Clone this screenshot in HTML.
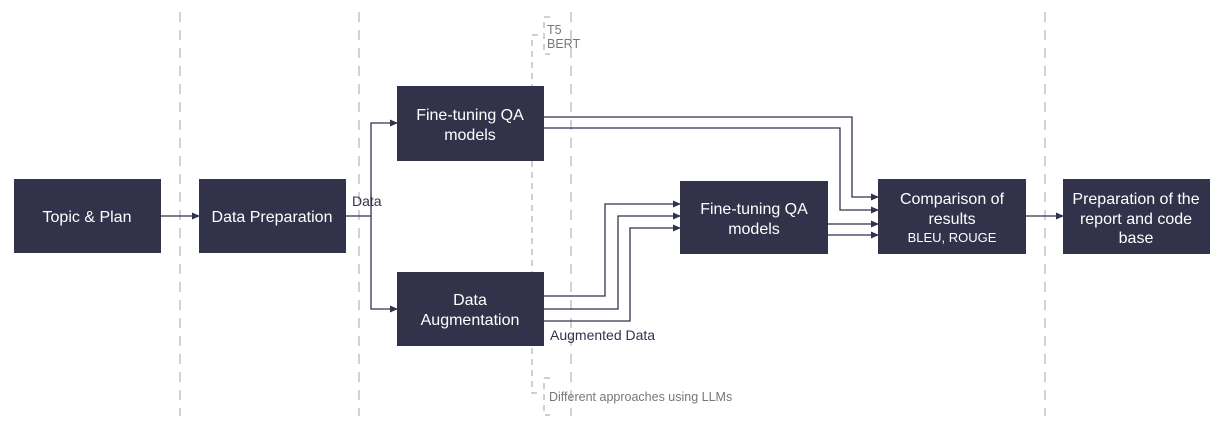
<!DOCTYPE html>
<html><head><style>
body{margin:0;background:#fff;}
svg{display:block;font-family:"Liberation Sans",Arial,sans-serif;}
</style></head><body>
<svg width="1223" height="424" viewBox="0 0 1223 424" xmlns="http://www.w3.org/2000/svg">
<defs><marker id="a" markerWidth="8" markerHeight="8" refX="7" refY="4" orient="auto" markerUnits="userSpaceOnUse"><path d="M0,0.5 L8,4 L0,7.5 z" fill="#32324a"/></marker></defs>
<g stroke="#c4c4c4" stroke-width="1.5" stroke-dasharray="10,8">
<line x1="180" y1="12" x2="180" y2="416"/><line x1="359" y1="12" x2="359" y2="416"/>
<line x1="571" y1="12" x2="571" y2="416"/><line x1="1045" y1="12" x2="1045" y2="416"/>
</g>
<g stroke="#a0a0a0" stroke-width="1" fill="none" stroke-dasharray="6,5">
<path d="M538,35 H532 V393 H538"/>
<path d="M550,17 H544 V54 H550"/>
<path d="M550,378 H544 V415 H550"/>
</g>
<g fill="#777" font-size="12.5"><text x="547" y="34">T5</text><text x="547" y="48">BERT</text><text x="549" y="401">Different approaches using LLMs</text></g>
<g fill="none" stroke="#32324a" stroke-width="1.3">
<path d="M161,216 H199" marker-end="url(#a)"/>
<path d="M346,216 H371"/>
<path d="M371,216 V123 H397" marker-end="url(#a)"/>
<path d="M371,216 V309 H397" marker-end="url(#a)"/>
<path d="M544,117 H852 V197 H878" marker-end="url(#a)"/>
<path d="M544,128 H840 V210 H878" marker-end="url(#a)"/>
<path d="M828,224 H878" marker-end="url(#a)"/>
<path d="M828,235 H878" marker-end="url(#a)"/>
<path d="M544,296 H605 V204 H680" marker-end="url(#a)"/>
<path d="M544,309 H618 V216 H680" marker-end="url(#a)"/>
<path d="M544,321 H630 V228 H680" marker-end="url(#a)"/>
<path d="M1026,216 H1063" marker-end="url(#a)"/>
</g>
<g fill="#32324a">
<rect x="14" y="179" width="147" height="74"/><rect x="199" y="179" width="147" height="74"/>
<rect x="397" y="86" width="147" height="75"/><rect x="397" y="272" width="147" height="74"/>
<rect x="680" y="181" width="148" height="73"/><rect x="878" y="179" width="148" height="75"/>
<rect x="1063" y="179" width="147" height="75"/>
</g>
<g fill="#fff" font-size="16" text-anchor="middle">
<text x="87" y="222">Topic &amp; Plan</text>
<text x="272" y="222">Data Preparation</text>
<text x="470" y="120">Fine-tuning QA</text><text x="470" y="140">models</text>
<text x="470" y="305">Data</text><text x="470" y="325">Augmentation</text>
<text x="754" y="214">Fine-tuning QA</text><text x="754" y="234">models</text>
<text x="952" y="204">Comparison of</text><text x="952" y="224">results</text>
<text x="952" y="242" font-size="13">BLEU, ROUGE</text>
<text x="1136" y="204">Preparation of the</text><text x="1136" y="224">report and code</text><text x="1136" y="243">base</text>
</g>
<g fill="#32324a" font-size="14"><text x="352" y="206">Data</text><text x="550" y="340">Augmented Data</text></g>
</svg>
</body></html>
